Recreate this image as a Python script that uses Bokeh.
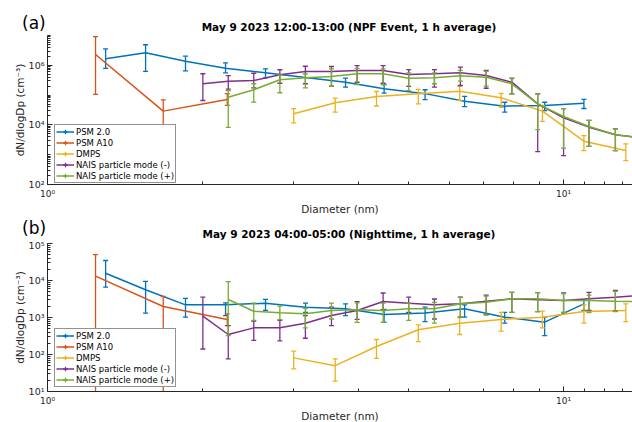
from bokeh.plotting import figure
from bokeh.models import Range1d, FixedTicker, CustomJSTickFormatter, Legend, LegendItem, Div
from bokeh.layouts import column
from bokeh.embed import file_html
from bokeh.resources import INLINE

# ---------------- data ----------------
series_names = ["PSM 2.0", "PSM A10", "DMPS", "NAIS particle mode (-)", "NAIS particle mode (+)"]

# Panel (a): May 9 2023 12:00-13:00 (NPF event)
psm2_dp_a = [1.296, 1.549, 1.851, 2.213, 2.645, 3.78, 4.49, 5.39, 6.43, 7.69, 9.19, 10.95]
psm2_a = [1.65e6, 2.63e6, 1.37e6, 8.0e5, 5.6e5, 2.71e5, 1.63e5, 1.12e5, 6.2e4, 4.25e4, 4.5e4, 5.35e4]
psm2_hi_a = [3.55e6, 4.9e6, 2.02e6, 1.2e6, 7.6e5, 3.7e5, 2.27e5, 1.51e5, 9.0e4, 5.75e4, 5.75e4, 7.2e4]
psm2_lo_a = [7.9e5, 6.3e5, 6.5e5, 5.6e5, 3.8e5, 1.84e5, 1.16e5, 7.1e4, 4.1e4, 2.7e4, 3.0e4, 3.55e4]

a10_dp_a = [1.239, 1.676, 2.23]
a10_a = [2.3e6, 2.9e4, 7.1e4]
a10_hi_a = [9.2e6, 6.9e4, 1.12e5]
a10_lo_a = [1.05e5, 9.0e3, 4.5e4]

dmps_dp_a = [3.0, 3.61, 4.34, 5.23, 6.29, 7.57, 9.1, 10.95, 13.2]
dmps_a = [2.35e4, 5.5e4, 9.0e4, 1.11e5, 1.35e5, 8.1e4, 2.9e4, 2.84e3, 1.38e3]
dmps_hi_a = [3.5e4, 7.9e4, 1.32e5, 1.55e5, 2.0e5, 1.15e5, 4.5e4, 4.4e3, 2.3e3]
dmps_lo_a = [1.17e4, 2.7e4, 4.3e4, 5.1e4, 6.6e4, 3.9e4, 1.32e4, 1.38e3, 630]

naisn_dp_a = [2.0, 2.24, 2.51, 2.82, 3.16, 3.55, 3.98, 4.47, 5.01, 5.62, 6.31, 7.08, 7.94, 8.91, 10.0, 11.2, 12.6, 14.1]
naisn_a = [2.39e5, 2.92e5, 3.1e5, 4.8e5, 6.2e5, 6.2e5, 6.7e5, 6.7e5, 4.9e5, 5.2e5, 5.6e5, 4.55e5, 2.71e5, 5.1e4, 1.73e4, 8.4e3, 4.66e3, 3.7e3]
naisn_hi_a = [5.2e5, 4.5e5, 5.4e5, 7.1e5, 9.3e5, 9.1e5, 9.8e5, 9.8e5, 7.2e5, 7.2e5, 8.7e5, 6.8e5, 3.7e5, 1.1e5, 3.5e4, 1.41e4, 7.4e3, 5.6e3]
naisn_lo_a = [6.6e4, 1.58e5, 1.76e5, 2.5e5, 2.4e5, 2.0e5, 2.7e5, 2.5e5, 1.95e5, 1.86e5, 2.1e5, 1.7e5, 1.1e5, 1.26e3, 930, 1.9e3, 1.38e3, 2.0e3]

naisp_dp_a = [2.24, 2.51, 2.82, 3.16, 3.55, 3.98, 4.47, 5.01, 5.62, 6.31, 7.08, 7.94, 8.91, 10.0, 11.2, 12.6, 14.1]
naisp_a = [8.5e4, 1.51e5, 3.26e5, 3.8e5, 4.2e5, 5.2e5, 5.2e5, 3.7e5, 3.8e5, 4.45e5, 4.0e5, 2.39e5, 5.1e4, 1.91e4, 8.8e3, 4.66e3, 3.7e3]
naisp_hi_a = [1.41e5, 2.4e5, 4.8e5, 5.1e5, 7.6e5, 7.9e5, 7.6e5, 5.6e5, 5.6e5, 6.8e5, 6.3e5, 3.55e5, 1.1e5, 3.5e4, 1.41e4, 7.4e3, 5.6e3]
naisp_lo_a = [8.3e3, 5.8e4, 1.2e5, 1.74e5, 2.0e5, 2.24e5, 2.24e5, 1.41e5, 2.4e5, 2.95e5, 2.0e5, 1.1e5, 6.9e3, 1.66e3, 1.9e3, 1.38e3, 2.0e3]

# Panel (b): May 9 2023 04:00-05:00 (nighttime)
psm2_dp_b = [1.296, 1.549, 1.851, 2.213, 2.645, 3.162, 3.78, 4.49, 5.39, 6.43, 7.69, 9.19, 10.95]
psm2_b = [1.57e4, 5.6e3, 2.2e3, 2.2e3, 2.43e3, 1.9e3, 1.72e3, 1.2e3, 1.32e3, 1.72e3, 1.02e3, 747, 2.34e3]
psm2_hi_b = [3.47e4, 9.5e3, 3.3e3, 2.5e3, 3.1e3, 2.45e3, 2.34e3, 1.66e3, 1.9e3, 2.2e3, 1.38e3, 1.02e3, 2.9e3]
psm2_lo_b = [6.6e3, 1.32e3, 1.02e3, 1.12e3, 1.55e3, 1.38e3, 1.12e3, 740, 776, 1.02e3, 708, 324, 1.55e3]

a10_dp_b = [1.239, 1.676, 2.23]
a10_b = [1.31e4, 1.98e3, 883]
a10_hi_b = [5.0e4, 3.7e3, 1.26e3]
a10_lo_b = [1.0, 1.0, 600]

dmps_dp_b = [3.0, 3.61, 4.34, 5.23, 6.29, 7.57, 9.1, 10.95, 13.2]
dmps_b = [81, 50, 164, 465, 700, 883, 1.02e3, 1.45e3, 1.55e3]
dmps_hi_b = [123, 76, 254, 630, 1.0e3, 1.38e3, 1.48e3, 2.19e3, 2.34e3]
dmps_lo_b = [41, 19, 79, 224, 347, 427, 525, 708, 776]

naisn_dp_b = [2.0, 2.24, 2.51, 2.82, 3.16, 3.55, 3.98, 4.47, 5.01, 5.62, 6.31, 7.08, 7.94, 8.91, 10.0, 11.2, 12.6, 14.1]
naisn_b = [1.09e3, 347, 525, 525, 700, 1.13e3, 1.55e3, 2.7e3, 2.43e3, 2.2e3, 2.34e3, 2.75e3, 3.2e3, 3.0e3, 2.9e3, 3.2e3, 3.55e3, 4.0e3]
naisn_hi_b = [3.55e3, 600, 794, 832, 1.12e3, 1.9e3, 2.7e3, 4.6e3, 3.55e3, 3.16e3, 3.55e3, 4.0e3, 4.8e3, 4.7e3, 4.6e3, 4.8e3, 5.4e3, 6.0e3]
naisn_lo_b = [141, 76, 240, 234, 275, 600, 890, 1.62e3, 1.38e3, 912, 1.02e3, 1.2e3, 1.38e3, 1.45e3, 1.38e3, 1.55e3, 1.48e3, 1.78e3]

naisp_dp_b = [2.24, 2.51, 2.82, 3.16, 3.55, 3.98, 4.47, 5.01, 5.62, 6.31, 7.08, 7.94, 8.91, 10.0, 11.2, 12.6, 14.1]
naisp_b = [3.06e3, 1.48e3, 1.34e3, 1.26e3, 1.55e3, 1.62e3, 1.55e3, 1.72e3, 1.72e3, 2.34e3, 2.6e3, 3.2e3, 3.2e3, 2.9e3, 2.9e3, 2.75e3, 2.7e3]
naisp_hi_b = [9.3e3, 2.45e3, 2.04e3, 1.78e3, 2.45e3, 2.5e3, 2.45e3, 2.45e3, 2.57e3, 3.55e3, 3.8e3, 4.8e3, 4.7e3, 4.4e3, 4.0e3, 5.1e3, 4.0e3]
naisp_lo_b = [324, 832, 871, 525, 912, 741, 741, 832, 708, 1.02e3, 1.17e3, 1.38e3, 1.45e3, 1.35e3, 1.35e3, 1.45e3, 1.78e3]

# axis ticks
x_major = [1, 10]
x_minor = [2, 3, 4, 5, 6, 7, 8, 9, 11, 12, 13]
y_major_a = [1e2, 1e4, 1e6]
y_major_b = [1e1, 1e2, 1e3, 1e4, 1e5]

# ---------------- styling ----------------
COLORS = ["#0072BD", "#D95319", "#EDB120", "#7E2F8E", "#77AC30"]
TEXT = "#262626"
FONT = "DejaVu Sans"

SUP = CustomJSTickFormatter(code="""
const e = Math.round(Math.log10(tick));
const s = {"0":"\u2070","1":"\u00b9","2":"\u00b2","3":"\u00b3","4":"\u2074","5":"\u2075","6":"\u2076","7":"\u2077","8":"\u2078","9":"\u2079","-":"\u207b"};
return "10" + String(e).split("").map(c => s[c]).join("");
""")


def minor_decades(lo_exp, hi_exp):
    out = []
    for e in range(lo_exp, hi_exp + 1):
        for m in range(1, 10):
            out.append(m * 10.0 ** e)
    return out


def make_panel(yr, y_major, series, frame_h, top, bottom, legend_y):
    p = figure(frame_width=585, frame_height=frame_h,
               x_axis_type="log", y_axis_type="log",
               x_range=Range1d(1, 13.6), y_range=Range1d(*yr),
               output_backend="svg", toolbar_location=None,
               min_border_left=47, min_border_right=0,
               min_border_top=top, min_border_bottom=bottom, margin=0)
    p.outline_line_color = None
    p.xgrid.visible = False
    p.ygrid.visible = False

    items = []
    for (name, dp, v, lo, hi), color in zip(series, COLORS):
        ln = p.line(dp, v, line_color=color, line_width=1.5)
        p.segment(x0=dp, y0=lo, x1=dp, y1=hi, line_color=color, line_width=1.3)
        p.scatter(dp, lo, marker="dash", size=5, line_color=color, line_width=1.3)
        p.scatter(dp, hi, marker="dash", size=5, line_color=color, line_width=1.3)
        lg = p.scatter([0.5], [yr[0] / 100], marker="cross", size=6, line_color=color, line_width=1.3)
        items.append(LegendItem(label=name, renderers=[ln, lg]))

    legend = Legend(items=items, location=(7, legend_y), margin=0, padding=1, spacing=0,
                    label_height=11, glyph_height=11, glyph_width=18, label_standoff=2,
                    label_text_font=FONT, label_text_font_size="8.5px", label_text_color="black",
                    border_line_color=TEXT, border_line_width=1, background_fill_color="white",
                    background_fill_alpha=1.0)
    p.add_layout(legend)

    xa, ya = p.xaxis[0], p.yaxis[0]
    xa.ticker = FixedTicker(ticks=x_major, minor_ticks=x_minor)
    all_minor = minor_decades(0, 7)
    ya.ticker = FixedTicker(ticks=y_major, minor_ticks=[t for t in all_minor if yr[0] <= t <= yr[1]])
    for ax in (xa, ya):
        ax.formatter = SUP
        ax.axis_line_color = TEXT
        ax.major_tick_line_color = TEXT
        ax.minor_tick_line_color = TEXT
        ax.major_tick_in = 5
        ax.major_tick_out = 0
        ax.minor_tick_in = 3
        ax.minor_tick_out = 0
        ax.major_label_text_font = FONT
        ax.major_label_text_font_size = "9px"
        ax.major_label_text_color = TEXT
        ax.axis_label_text_font = FONT
        ax.axis_label_text_font_size = "10.5px"
        ax.axis_label_text_font_style = "normal"
        ax.axis_label_text_color = TEXT
    ya.major_label_text_font_size = "9.5px"
    xa.axis_label = "Diameter (nm)"
    xa.major_label_standoff = 4
    xa.axis_label_standoff = 1
    ya.axis_label = "dN/dlogDp (cm\u207b\u00b3)"
    ya.major_label_standoff = 3
    ya.axis_label_standoff = 0
    return p


def header(tag, title, h, tag_cy, title_cy):
    html = (
        f'<div style="position:relative;width:632px;height:{h}px;margin:0;padding:0;">'
        f'<span style="position:absolute;left:22px;top:{tag_cy - 8.5}px;font-family:\'DejaVu Sans\';'
        f'font-size:17px;line-height:17px;color:#000;white-space:nowrap;">{tag}</span>'
        f'<span style="position:absolute;left:349px;top:{title_cy - 5.25}px;transform:translateX(-50%);'
        f'font-family:\'DejaVu Sans\';font-size:10.5px;line-height:10.5px;font-weight:bold;'
        f'color:#000;white-space:nowrap;">{title}</span>'
        '</div>')
    return Div(text=html, width=632, height=h, margin=0)


series_a = [
    (series_names[0], psm2_dp_a, psm2_a, psm2_lo_a, psm2_hi_a),
    (series_names[1], a10_dp_a, a10_a, a10_lo_a, a10_hi_a),
    (series_names[2], dmps_dp_a, dmps_a, dmps_lo_a, dmps_hi_a),
    (series_names[3], naisn_dp_a, naisn_a, naisn_lo_a, naisn_hi_a),
    (series_names[4], naisp_dp_a, naisp_a, naisp_lo_a, naisp_hi_a),
]
series_b = [
    (series_names[0], psm2_dp_b, psm2_b, psm2_lo_b, psm2_hi_b),
    (series_names[1], a10_dp_b, a10_b, a10_lo_b, a10_hi_b),
    (series_names[2], dmps_dp_b, dmps_b, dmps_lo_b, dmps_hi_b),
    (series_names[3], naisn_dp_b, naisn_b, naisn_lo_b, naisn_hi_b),
    (series_names[4], naisp_dp_b, naisp_b, naisp_lo_b, naisp_hi_b),
]

head_a = header("(a)", "May 9 2023 12:00-13:00 (NPF Event, 1 h average)", 35, 23.5, 27.5)
pa = make_panel((1e2, 1e7), y_major_a, series_a, 149, 0, 33, 1)
head_b = header("(b)", "May 9 2023 04:00-05:00 (Nighttime, 1 h average)", 22, 11, 17.5)
pb = make_panel((1e1, 1e5), y_major_b, series_b, 148, 4, 31, 4)

layout = column(head_a, pa, head_b, pb, spacing=0)
open("out.html", "w").write(file_html(layout, INLINE))
